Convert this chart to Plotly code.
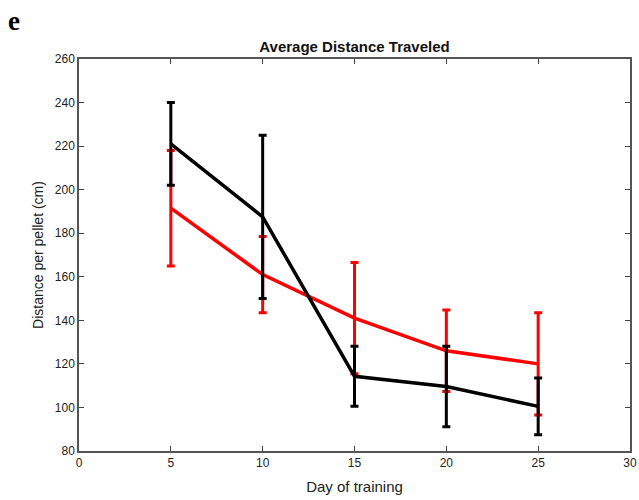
import plotly.graph_objects as go

days = [5, 10, 15, 20, 25]
red_mean = [191.5, 161, 141, 126, 120]
red_err = [26.5, 17.5, 25.5, 18.7, 23.5]
black_mean = [221, 187.5, 114.3, 109.6, 100.5]
black_err = [19, 37.5, 13.8, 18.5, 13]

x_ticks = [0, 5, 10, 15, 20, 25, 30]
y_ticks = [80, 100, 120, 140, 160, 180, 200, 220, 240, 260]

FONT = "Liberation Sans, Arial"

fig = go.Figure()
fig.add_trace(go.Scatter(
    x=days, y=red_mean, mode="lines",
    line=dict(color="#ff0000", width=3.5),
    error_y=dict(type="data", array=red_err, color="#ff0000", thickness=3, width=4),
    showlegend=False))
fig.add_trace(go.Scatter(
    x=days, y=black_mean, mode="lines",
    line=dict(color="#000000", width=3.5),
    error_y=dict(type="data", array=black_err, color="#000000", thickness=3, width=4),
    showlegend=False))

axis_common = dict(
    showline=True, linecolor="#555555", linewidth=1.5, mirror="ticks",
    ticks="inside", ticklen=5, tickcolor="#444444", tickwidth=1,
    showgrid=False, zeroline=False, automargin=False,
    tickfont=dict(family=FONT, size=12, color="#222222"),
)

fig.update_layout(
    width=639, height=500,
    margin=dict(l=79, r=9, t=59, b=49, autoexpand=False),
    plot_bgcolor="white", paper_bgcolor="white",
    title=dict(text="<b>Average Distance Traveled</b>", x=0.5, xanchor="center",
               xref="paper", y=1 - 47 / 500, yref="container", yanchor="middle",
               font=dict(family=FONT, size=15, color="#111111")),
    xaxis=dict(range=[0, 30], tickvals=x_ticks,
               title=dict(text="Day of training", standoff=12,
                          font=dict(family=FONT, size=15, color="#222222")),
               **axis_common),
    yaxis=dict(range=[80, 260], tickvals=y_ticks,
               title=dict(text="Distance per pellet (cm)", standoff=8,
                          font=dict(family=FONT, size=14, color="#222222")),
               **axis_common),
    annotations=[dict(text="<b>e</b>", x=(7 - 79) / 551, y=1.0 + (59 - 5) / 392,
                      xref="paper", yref="paper",
                      xanchor="left", yanchor="top", showarrow=False, borderpad=0,
                      font=dict(family="Liberation Serif, Times New Roman", size=27, color="black"))],
)
fig.write_html(
    "out.html",
    config={"displayModeBar": False},
    post_script="document.body.style.margin='0';document.body.style.overflow='hidden';",
)
